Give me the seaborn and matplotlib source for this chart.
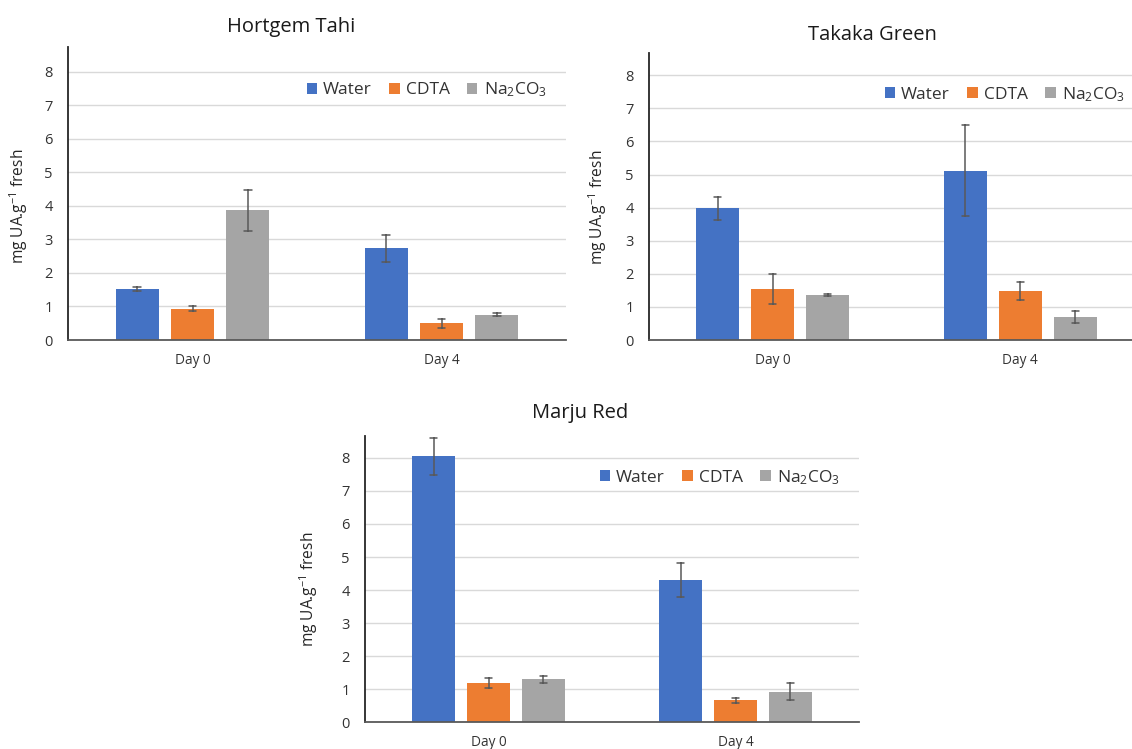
import numpy as np
import pandas as pd
import matplotlib
matplotlib.use("Agg")
import matplotlib.pyplot as plt
import seaborn as sns

# ---------------- data ----------------
days = ["Day 0", "Day 4"]
treatments = ["Water", "CDTA", "Na$_2$CO$_3$"]
colors = ["#4472C4", "#ED7D31", "#A5A5A5"]

titles = ["Hortgem Tahi", "Takaka Green", "Marju Red"]

# means per treatment (Day 0, Day 4)
hortgem_water = [1.51, 2.73]
hortgem_cdta = [0.93, 0.50]
hortgem_na2co3 = [3.87, 0.76]
hortgem_water_err = [0.06, 0.40]
hortgem_cdta_err = [0.075, 0.135]
hortgem_na2co3_err = [0.615, 0.045]

takaka_water = [3.98, 5.11]
takaka_cdta = [1.53, 1.48]
takaka_na2co3 = [1.37, 0.69]
takaka_water_err = [0.35, 1.375]
takaka_cdta_err = [0.45, 0.26]
takaka_na2co3_err = [0.03, 0.185]

marju_water = [8.05, 4.30]
marju_cdta = [1.19, 0.66]
marju_na2co3 = [1.30, 0.93]
marju_water_err = [0.56, 0.52]
marju_cdta_err = [0.155, 0.075]
marju_na2co3_err = [0.10, 0.27]

yticks = [0, 1, 2, 3, 4, 5, 6, 7, 8]
ylabel = "mg UA.g$^{-1}$ fresh"


def long_table(means, errs):
    rows = []
    for t, m_list, e_list in zip(treatments, means, errs):
        for d, m, e in zip(days, m_list, e_list):
            rows.append({"day": d, "treatment": t, "value": m - e})
            rows.append({"day": d, "treatment": t, "value": m + e})
    return pd.DataFrame(rows)


tables = [
    long_table([hortgem_water, hortgem_cdta, hortgem_na2co3],
               [hortgem_water_err, hortgem_cdta_err, hortgem_na2co3_err]),
    long_table([takaka_water, takaka_cdta, takaka_na2co3],
               [takaka_water_err, takaka_cdta_err, takaka_na2co3_err]),
    long_table([marju_water, marju_cdta, marju_na2co3],
               [marju_water_err, marju_cdta_err, marju_na2co3_err]),
]

# ---------------- style ----------------
sns.set_style("white")
plt.rcParams["font.family"] = ["Open Sans", "DejaVu Sans"]
plt.rcParams["mathtext.default"] = "regular"

W, H = 1132, 749
fig = plt.figure(figsize=(W / 100, H / 100), dpi=100)
fig.patch.set_facecolor("white")


def px_axes(left, right, top, bottom):
    return fig.add_axes([left / W, (H - bottom) / H, (right - left) / W, (bottom - top) / H])


axes_px = [
    (68, 566, 47, 340, 8.74),
    (649, 1144, 52.7, 340, 8.68),
    (365, 859, 435.7, 722.3, 8.67),
]
title_px = [(291, 27), (872, 35), (580, 413)]
ylabel_px = [(19, 206), (598, 207), (309, 589)]

for i, (l, r, t, b, ytop) in enumerate(axes_px):
    ax = px_axes(l, r, t, b)
    sns.barplot(
        data=tables[i], x="day", y="value", hue="treatment",
        order=days, hue_order=treatments, palette=colors,
        estimator="mean", errorbar=lambda v: (v.min(), v.max()),
        width=0.667, gap=0.22, capsize=0.09, saturation=1,
        err_kws={"color": "#595959", "linewidth": 1.1},
        linewidth=0, ax=ax,
    )
    ax.set_xlim(-0.5, 1.5)
    ax.set_ylim(0, ytop)
    ax.set_yticks(yticks)
    ax.set_xlabel("")
    ax.set_ylabel("")
    ax.yaxis.grid(True, color="#D9D9D9", linewidth=1.0)
    ax.xaxis.grid(False)
    ax.set_axisbelow(True)
    for s in ["top", "right"]:
        ax.spines[s].set_visible(False)
    ax.spines["left"].set_color("#262626")
    ax.spines["left"].set_linewidth(1.3)
    ax.spines["bottom"].set_color("#595959")
    ax.spines["bottom"].set_linewidth(1.3)
    ax.tick_params(axis="y", length=0, pad=11, labelsize=10.5, labelcolor="#333333")
    ax.tick_params(axis="x", length=0, pad=9, labelsize=9.8, labelcolor="#333333")
    ax.set_facecolor("white")

    handles, labels = ax.get_legend_handles_labels()
    if ax.get_legend() is not None:
        ax.get_legend().remove()
    ax.legend(handles, labels, ncol=3, frameon=False, loc="center right",
              bbox_to_anchor=(0.975, 0.855), fontsize=12.5,
              handlelength=0.6, handleheight=0.6, handletextpad=0.35,
              columnspacing=1.0, borderaxespad=0, labelcolor="#333333")

    tx, ty = title_px[i]
    fig.text(tx / W, (H - ty) / H, titles[i], ha="center", va="center",
             fontsize=14.5, color="#1a1a1a")
    lx, ly = ylabel_px[i]
    fig.text(lx / W, (H - ly) / H, ylabel, ha="center", va="center",
             rotation=90, fontsize=11.2, color="#262626")

fig.savefig("out.png", dpi=100, facecolor="white")
